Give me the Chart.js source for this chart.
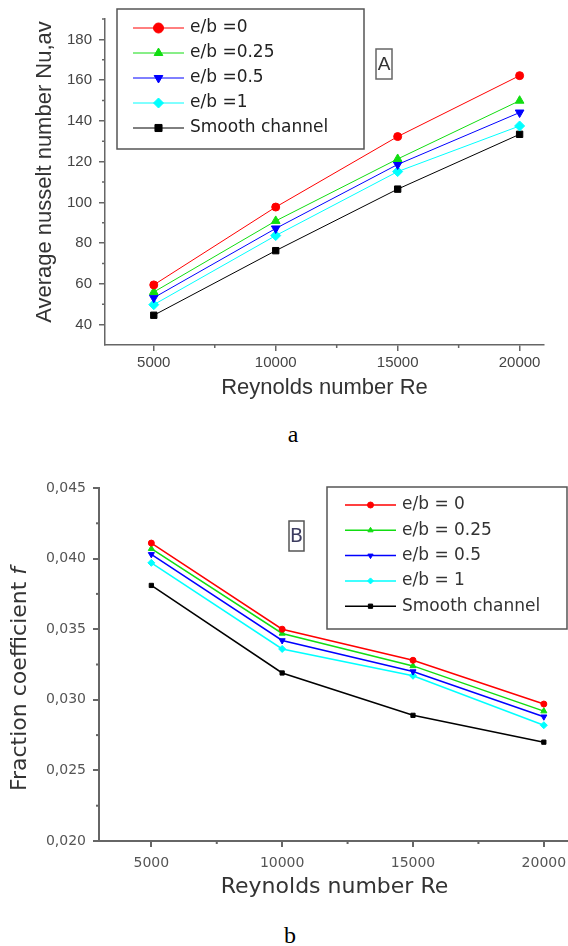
<!DOCTYPE html>
<html>
<head>
<meta charset="utf-8">
<script src="https://cdn.jsdelivr.net/npm/chart.js@4/dist/chart.umd.min.js"></script>
<style>
  body { margin: 0; width: 568px; height: 946px; overflow: hidden; background: #fff; position: relative; }
  .cap { position: absolute; width: 40px; text-align: center; font: 24px "Liberation Serif", "Times New Roman", serif; line-height: 24px; color: #000; }
</style>
</head>
<body>
<canvas id="chartA" width="568" height="420" style="position:absolute;left:0;top:0"></canvas>
<div class="cap" style="left:273px;top:422px">a</div>
<canvas id="chartB" width="575" height="470" style="position:absolute;left:0;top:440px"></canvas>
<div class="cap" style="left:270px;top:923px">b</div>
<script>
// shared x values
const reynolds = [5000, 10000, 15000, 20000];
const reTicks = [5000, 10000, 15000, 20000];
const reMinor = [7500, 12500, 17500];

// chart A : average Nusselt number
const nuLabels = ['e/b =0', 'e/b =0.25', 'e/b =0.5', 'e/b =1', 'Smooth channel'];
const nuE0 = [59.5, 97.7, 132.3, 162.2];
const nuE025 = [56.0, 90.9, 121.3, 149.9];
const nuE05 = [53.2, 87.2, 118.6, 144.1];
const nuE1 = [49.8, 83.7, 115.1, 137.5];
const nuSmooth = [44.6, 76.3, 106.5, 133.4];
const nuTicks = [40, 60, 80, 100, 120, 140, 160, 180];
const nuMinor = [50, 70, 90, 110, 130, 150, 170, 190];

// chart B : friction coefficient
const fLabels = ['e/b = 0', 'e/b = 0.25', 'e/b = 0.5', 'e/b = 1', 'Smooth channel'];
const fE0 = [0.0411, 0.0350, 0.0328, 0.0297];
const fE025 = [0.0407, 0.0347, 0.0324, 0.0292];
const fE05 = [0.0403, 0.0342, 0.0320, 0.0288];
const fE1 = [0.0397, 0.0336, 0.0317, 0.0282];
const fSmooth = [0.0381, 0.0319, 0.0289, 0.0270];
const fTicks = [0.020, 0.025, 0.030, 0.035, 0.040, 0.045];
const fMinor = [0.0225, 0.0275, 0.0325, 0.0375, 0.0425];

const colors = ['#ff0000', '#11dd11', '#0000ff', '#00ffff', '#000000'];
const styles = [
    { pointStyle: 'circle', rotation: 0 },
    { pointStyle: 'triangle', rotation: 0 },
    { pointStyle: 'triangle', rotation: 180 },
    { pointStyle: 'rectRot', rotation: 0 },
    { pointStyle: 'rect', rotation: 0 },
];

function pairs(ys) {
    return reynolds.map((x, i) => ({ x: x, y: ys[i] }));
}

function makeDatasets(labels, series, radii, lineWidth) {
    return series.map((ys, i) => ({
        label: labels[i],
        data: pairs(ys),
        borderColor: colors[i],
        backgroundColor: colors[i],
        borderWidth: lineWidth,
        pointStyle: styles[i].pointStyle,
        pointRotation: styles[i].rotation,
        pointRadius: radii[i],
        pointBorderWidth: 1,
        pointBorderColor: colors[i],
        pointBackgroundColor: colors[i],
        tension: 0,
    }));
}

// small outward minor ticks between the major ones
const minorTicks = {
    id: 'minorTicks',
    afterDraw(chart, args, opts) {
        const ctx = chart.ctx;
        ctx.save();
        ctx.strokeStyle = opts.color;
        ctx.lineWidth = opts.width;
        ['x', 'y'].forEach(id => {
            const scale = chart.scales[id];
            (opts[id] || []).forEach(v => {
                const p = scale.getPixelForValue(v);
                ctx.beginPath();
                if (id === 'x') {
                    ctx.moveTo(p, scale.top);
                    ctx.lineTo(p, scale.top + opts.length);
                } else {
                    ctx.moveTo(scale.right, p);
                    ctx.lineTo(scale.right - opts.length, p);
                }
                ctx.stroke();
            });
        });
        ctx.restore();
    }
};

// legend with a line through the marker, like Origin draws it
const lineLegend = {
    id: 'lineLegend',
    afterDraw(chart, args, opts) {
        const ctx = chart.ctx;
        const b = opts.box;
        ctx.save();
        ctx.strokeStyle = opts.borderColor;
        ctx.lineWidth = opts.borderWidth;
        ctx.strokeRect(b.left, b.top, b.width, b.height);
        chart.data.datasets.forEach((ds, i) => {
            const y = opts.firstRow + i * opts.rowGap;
            ctx.strokeStyle = ds.borderColor;
            ctx.lineWidth = ds.borderWidth;
            ctx.beginPath();
            ctx.moveTo(opts.lineStart, y);
            ctx.lineTo(opts.lineEnd, y);
            ctx.stroke();
            ctx.fillStyle = ds.backgroundColor;
            ctx.lineWidth = 1;
            Chart.helpers.drawPoint(ctx, {
                pointStyle: ds.pointStyle,
                rotation: ds.pointRotation,
                radius: opts.markerRadius,
                borderWidth: 1
            }, (opts.lineStart + opts.lineEnd) / 2, y);
            ctx.fillStyle = opts.textColor;
            ctx.font = opts.font;
            ctx.textAlign = 'left';
            ctx.textBaseline = 'middle';
            ctx.fillText(ds.label, opts.textX, y);
        });
        ctx.restore();
    }
};

// axis titles and the boxed panel letter
const panelText = {
    id: 'panelText',
    afterDraw(chart, args, opts) {
        const ctx = chart.ctx;
        const area = chart.chartArea;
        ctx.save();
        (opts.titles || []).forEach(t => {
            const cx = t.x != null ? t.x : (area.left + area.right) / 2;
            const cy = t.y != null ? t.y : area.bottom + t.below;
            ctx.translate(cx, cy);
            if (t.rotate) ctx.rotate(t.rotate);
            let total = 0;
            const parts = t.parts.map(p => {
                ctx.font = p.font;
                const w = ctx.measureText(p.text).width;
                total += w;
                return { text: p.text, font: p.font, w: w };
            });
            let x = -total / 2;
            ctx.fillStyle = t.color;
            ctx.textAlign = 'left';
            ctx.textBaseline = 'middle';
            parts.forEach(p => {
                ctx.font = p.font;
                ctx.fillText(p.text, x, 0);
                x += p.w;
            });
            ctx.setTransform(1, 0, 0, 1, 0, 0);
        });
        const l = opts.letter;
        if (l) {
            ctx.strokeStyle = l.borderColor;
            ctx.lineWidth = 1.5;
            ctx.strokeRect(l.left, l.top, l.width, l.height);
            ctx.fillStyle = l.color;
            ctx.font = l.font;
            ctx.textAlign = 'center';
            ctx.textBaseline = 'middle';
            ctx.fillText(l.text, l.left + l.width / 2, l.top + l.height / 2 + 1);
        }
        ctx.restore();
    }
};

function axisOptions(cfg) {
    return {
        type: 'linear',
        min: cfg.min,
        max: cfg.max,
        afterBuildTicks: scale => { scale.ticks = cfg.ticks.map(v => ({ value: v })); },
        afterFit: scale => {
            if (cfg.width != null) scale.width = cfg.width;
            if (cfg.height != null) scale.height = cfg.height;
        },
        ticks: {
            font: cfg.font,
            color: cfg.tickColor,
            padding: cfg.padding,
            callback: cfg.format,
            autoSkip: false,
            maxRotation: 0,
        },
        grid: {
            drawOnChartArea: false,
            drawTicks: true,
            tickLength: cfg.tickLength,
            color: cfg.lineColor,
            lineWidth: cfg.lineWidth,
        },
        border: { display: true, color: cfg.lineColor, width: cfg.lineWidth },
    };
}

const chartA = new Chart(document.getElementById('chartA'), {
    type: 'line',
    data: {
        datasets: makeDatasets(nuLabels, [nuE0, nuE025, nuE05, nuE1, nuSmooth], [4, 5, 5, 5, 4.5], 1),
    },
    options: {
        responsive: false,
        animation: false,
        layout: { padding: { left: 0, top: 19, right: 24, bottom: 0 } },
        scales: {
            x: axisOptions({
                min: 3000, max: 21000, ticks: reTicks, height: 75,
                font: { family: 'Liberation Sans, Arial, sans-serif', size: 15 },
                tickColor: '#444', padding: 3, tickLength: 6, lineColor: '#666', lineWidth: 1.5,
                format: v => String(v),
            }),
            y: axisOptions({
                min: 30, max: 190, ticks: nuTicks, width: 105,
                font: { family: 'Liberation Sans, Arial, sans-serif', size: 15 },
                tickColor: '#444', padding: 7, tickLength: 6, lineColor: '#666', lineWidth: 1.5,
                format: v => String(v),
            }),
        },
        plugins: {
            legend: { display: false },
            tooltip: { enabled: false },
            minorTicks: { x: reMinor, y: nuMinor, length: 3, color: '#666', width: 1.5 },
            lineLegend: {
                box: { left: 117, top: 9, width: 247, height: 140 },
                borderColor: '#555', borderWidth: 1.5,
                firstRow: 28, rowGap: 25, lineStart: 133, lineEnd: 184, textX: 190,
                markerRadius: 5,
                font: '17px "DejaVu Sans", sans-serif', textColor: '#222',
            },
            panelText: {
                titles: [
                    { below: 43, color: '#333',
                      parts: [{ text: 'Reynolds number Re', font: '22px "Liberation Sans", Arial, sans-serif' }] },
                    { x: 45, y: 172, rotate: -Math.PI / 2, color: '#333',
                      parts: [{ text: 'Average nusselt number Nu,av', font: '22px "Liberation Sans", Arial, sans-serif' }] },
                ],
                letter: { text: 'A', left: 376, top: 49, width: 16, height: 30,
                          font: '19px "Liberation Sans", Arial, sans-serif', color: '#333', borderColor: '#666' },
            },
        },
    },
    plugins: [minorTicks, lineLegend, panelText],
});

const chartB = new Chart(document.getElementById('chartB'), {
    type: 'line',
    data: {
        datasets: makeDatasets(fLabels, [fE0, fE025, fE05, fE1, fSmooth], [3, 3.5, 3.5, 3.5, 3], 1.5),
    },
    options: {
        responsive: false,
        animation: false,
        layout: { padding: { left: 0, top: 48, right: 5, bottom: 0 } },
        scales: {
            x: axisOptions({
                min: 3000, max: 21000, ticks: reTicks, height: 69,
                font: { family: 'DejaVu Sans, sans-serif', size: 14 },
                tickColor: '#555', padding: 8, tickLength: 6, lineColor: '#666', lineWidth: 2,
                format: v => String(v),
            }),
            y: axisOptions({
                min: 0.020, max: 0.045, ticks: fTicks, width: 99,
                font: { family: 'DejaVu Sans, sans-serif', size: 14 },
                tickColor: '#555', padding: 7, tickLength: 6, lineColor: '#666', lineWidth: 2,
                format: v => v.toFixed(3).replace('.', ','),
            }),
        },
        plugins: {
            legend: { display: false },
            tooltip: { enabled: false },
            minorTicks: { x: reMinor, y: fMinor, length: 3, color: '#666', width: 2 },
            lineLegend: {
                box: { left: 327, top: 47, width: 240, height: 142 },
                borderColor: '#555', borderWidth: 1.5,
                firstRow: 65, rowGap: 25.3, lineStart: 345, lineEnd: 396, textX: 402,
                markerRadius: 3,
                font: '17px "DejaVu Sans", sans-serif', textColor: '#333',
            },
            panelText: {
                titles: [
                    { below: 46, color: '#333',
                      parts: [{ text: 'Reynolds number Re', font: '22px "DejaVu Sans", sans-serif' }] },
                    { x: 20, y: 239, rotate: -Math.PI / 2, color: '#333',
                      parts: [
                          { text: 'Fraction coefficient ', font: '22px "DejaVu Sans", sans-serif' },
                          { text: 'f', font: 'italic 22px "DejaVu Sans", sans-serif' },
                      ] },
                ],
                letter: { text: 'B', left: 289, top: 81, width: 15, height: 30,
                          font: '19px "DejaVu Sans", sans-serif', color: '#3c3c60', borderColor: '#555' },
            },
        },
    },
    plugins: [minorTicks, lineLegend, panelText],
});
</script>
</body>
</html>
